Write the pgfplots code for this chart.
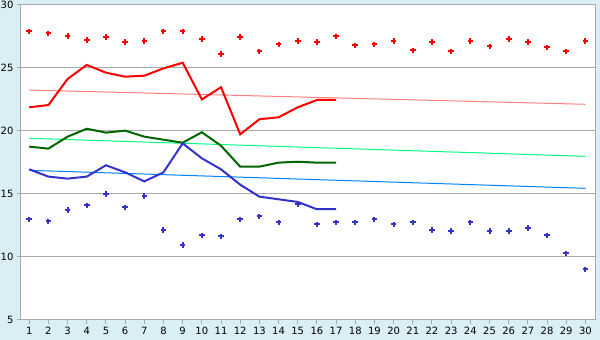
\documentclass[border=0pt]{standalone}
\usepackage{pgfplots}
\pgfplotsset{compat=1.18}
\usepackage{fontspec}
\setmainfont{DejaVu Sans}
\definecolor{bg}{HTML}{D9EEF5}
\definecolor{gridc}{HTML}{AAAAAA}
\definecolor{dgreen}{HTML}{006600}
\definecolor{lgreen}{HTML}{00FF80}
\definecolor{bline}{HTML}{3333CC}
\definecolor{btrend}{HTML}{0080FF}
\definecolor{rtrend}{HTML}{FF8080}
\begin{document}
\begin{tikzpicture}[x=1pt,y=1pt]
\fill[bg] (0,0) rectangle (600,340);
\useasboundingbox (0,0) rectangle (600,340);
\begin{axis}[
  at={(21pt,20pt)}, anchor=south west,
  scale only axis, width=574pt, height=315pt,
  xmin=0.57, xmax=30.5, ymin=5, ymax=30,
  xtick={1,...,30}, ytick={5,10,...,30},
  xtick pos=bottom, ytick pos=left,
  tick align=outside, major tick length=4pt,
  tick style={gridc, line width=1pt},
  axis line style={gridc, line width=1pt},
  ymajorgrids, grid style={gridc, line width=1pt},
  axis background/.style={fill=white},
  tick label style={font=\fontsize{10}{12}\selectfont},
  /pgf/number format/assume math mode=true,
  clip=false,
]
% red points
\addplot[only marks, mark=+, mark size=2.8pt, mark options={line width=2pt}, color=red] coordinates {
(1,27.9)(2,27.75)(3,27.54)(4,27.2)(5,27.44)(6,27.04)(7,27.12)(8,27.9)(9,27.9)(10,27.28)
(11,26.11)(12,27.44)(13,26.32)(14,26.88)(15,27.12)(16,27.04)(17,27.51)(18,26.8)(19,26.88)(20,27.12)
(21,26.4)(22,27.04)(23,26.32)(24,27.12)(25,26.72)(26,27.28)(27,27.04)(28,26.64)(29,26.32)(30,27.12)};
% blue points
\addplot[only marks, mark=+, mark size=2.8pt, mark options={line width=2pt}, color=bline] coordinates {
(1,12.99)(2,12.83)(3,13.71)(4,14.1)(5,14.98)(6,13.94)(7,14.82)(8,12.12)(9,10.93)(10,11.72)
(11,11.64)(12,12.99)(13,13.23)(14,12.75)(15,14.18)(16,12.59)(17,12.75)(18,12.75)(19,12.99)(20,12.59)
(21,12.75)(22,12.12)(23,12.04)(24,12.75)(25,12.04)(26,12.04)(27,12.28)(28,11.72)(29,10.29)(30,9.02)};
% trends
\addplot[rtrend, line width=1pt] coordinates {(1,23.25)(30,22.12)};
\addplot[lgreen, line width=1pt] coordinates {(1,19.42)(30,17.99)};
\addplot[btrend, line width=1pt] coordinates {(1,16.88)(30,15.45)};
% red line
\addplot[red, line width=2pt] coordinates {
(1,21.88)(2,22.06)(3,24.13)(4,25.24)(5,24.63)(6,24.31)(7,24.39)(8,24.97)(9,25.42)(10,22.51)
(11,23.47)(12,19.74)(13,20.93)(14,21.09)(15,21.88)(16,22.46)(17,22.48)};
% green line
\addplot[dgreen, line width=2pt] coordinates {
(1,18.76)(2,18.6)(3,19.55)(4,20.18)(5,19.87)(6,20.03)(7,19.55)(8,19.31)(9,19.07)(10,19.9)
(11,18.83)(12,17.17)(13,17.17)(14,17.49)(15,17.56)(16,17.49)(17,17.49)};
% blue line
\addplot[bline, line width=2pt] coordinates {
(1,16.96)(2,16.38)(3,16.22)(4,16.38)(5,17.28)(6,16.72)(7,16.0)(8,16.72)(9,19.02)(10,17.83)
(11,16.96)(12,15.74)(13,14.79)(14,14.58)(15,14.37)(16,13.79)(17,13.79)};
\end{axis}
\end{tikzpicture}
\end{document}
